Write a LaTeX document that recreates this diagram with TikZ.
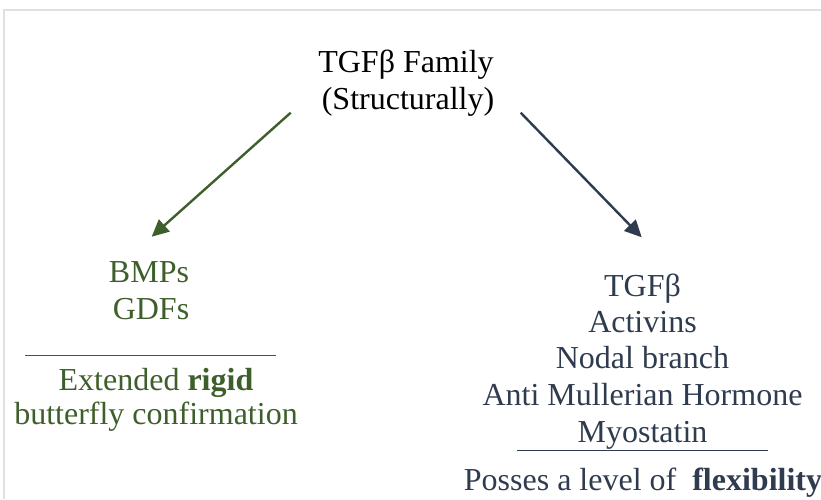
\documentclass[tikz,border=0pt]{standalone}
\usepackage{fontspec}
\setmainfont{Liberation Serif}
\usetikzlibrary{arrows.meta}
\definecolor{leafgreen}{HTML}{3E5F2B}
\definecolor{slate}{HTML}{2F3B4E}
\definecolor{framegray}{HTML}{E0E0E0}
\begin{document}
\begin{tikzpicture}[x=1pt,y=1pt,
  txt/.style={anchor=base,inner sep=0pt,font=\fontsize{32}{37}\selectfont},
  gtxt/.style={txt,text=leafgreen},
  btxt/.style={txt,text=slate},
  conn/.style={line width=2.4pt,-{Triangle[length=17pt,width=16pt]}}]
\useasboundingbox (0,0) rectangle (821,-499);
% frame
\draw[framegray,line width=2pt] (4.3,-499) -- (4.3,-10.3) -- (821,-10.3);
% title
\node[txt,text=black] (t1) at (406,-72) {TGFβ Family};
\node[txt,text=black] (t2) at (408,-109) {(Structurally)};
% left group
\node[gtxt] (bmp) at (149,-282) {BMPs};
\node[gtxt] (gdf) at (151,-319) {GDFs};
\coordinate (ls) at (25,-355);
\coordinate (le) at (276,-355);
\draw[leafgreen,line width=1pt] (ls) -- (le);
\node[gtxt] (ext) at (156,-390) {Extended \textbf{rigid}};
\node[gtxt] (but) at (156,-424.5) {butterfly confirmation};
% right group
\node[btxt] (tgf) at (642.5,-296) {TGFβ};
\node[btxt] (act) at (642.5,-332.5) {Activins};
\node[btxt] (nod) at (642.5,-368) {Nodal branch};
\node[btxt] (amh) at (642.5,-405) {Anti Mullerian Hormone};
\node[btxt] (myo) at (642.5,-442.5) {Myostatin};
\coordinate (rs) at (517,-450);
\coordinate (re) at (768,-450);
\draw[slate,line width=1pt] (rs) -- (re);
\node[btxt] (pos) at (643,-490.5) {Posses a level of \ \textbf{flexibility}};
% connectors
\coordinate (a1s) at (290.7,-112.7);
\coordinate (a1e) at (151.7,-236.7);
\coordinate (a2s) at (520.7,-112.7);
\coordinate (a2e) at (641.7,-237.3);
\draw[conn,leafgreen] (a1s) -- (a1e);
\draw[conn,slate] (a2s) -- (a2e);
\end{tikzpicture}
\end{document}
